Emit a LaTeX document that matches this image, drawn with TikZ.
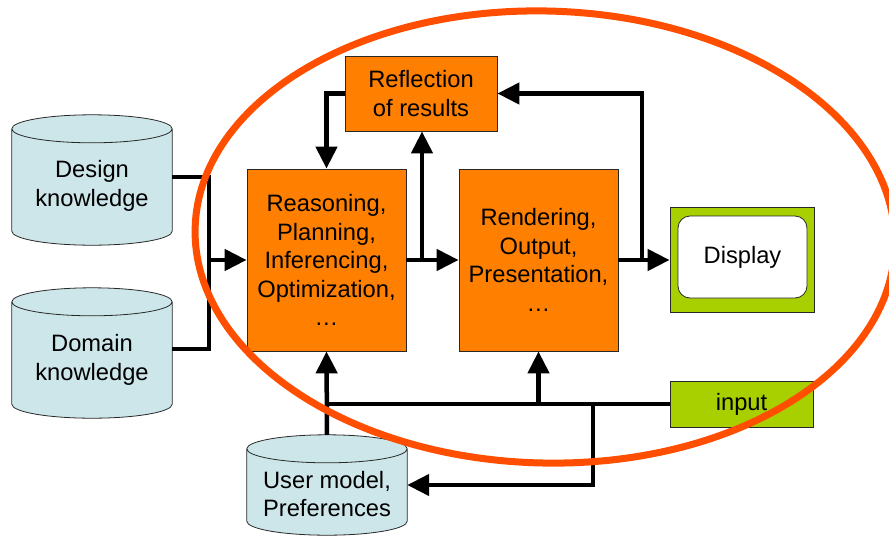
\documentclass[tikz,border=0pt]{standalone}
\usepackage{fontspec}
\setmainfont{Liberation Sans}
\usetikzlibrary{arrows.meta,calc}
\definecolor{boxorange}{RGB}{255,127,0}
\definecolor{dispgreen}{RGB}{168,208,0}
\definecolor{dbblue}{RGB}{205,230,234}
\definecolor{ringred}{RGB}{255,78,0}
\definecolor{edgegray}{RGB}{40,40,40}
\newcommand\dbcyl[1]{%
  \path[cylbody] let \p1=(#1.north west), \p2=(#1.south east), \n1={(\x2-\x1)/2} in
    (\x1,\y1-14pt) -- (\x1,\y2+14pt)
    arc[start angle=180, end angle=360, x radius=\n1, y radius=14pt]
    -- (\x2,\y1-14pt)
    arc[start angle=0, end angle=180, x radius=\n1, y radius=14pt] -- cycle
    (\x1,\y1-14pt) arc[start angle=180, end angle=360, x radius=\n1, y radius=14pt];}
\begin{document}
\begin{tikzpicture}[x=1pt,y=-1pt,
  every node/.style={font=\fontsize{23.7}{28.5}\selectfont, align=center, inner sep=0pt},
  procbox/.style={draw=edgegray, line width=0.8pt, fill=boxorange},
  greenbox/.style={draw=edgegray, line width=0.8pt, fill=dispgreen},
  cylbody/.style={draw=edgegray, line width=0.8pt, fill=dbblue},
  conn/.style={line width=4.5pt, draw=black},
  arr/.style={conn, -{Triangle[length=22pt,width=21pt]}},
  ring/.style={draw=ringred, line width=7pt}]

\useasboundingbox (0,0) rectangle (889,536);

% process boxes
\node[procbox, minimum width=152pt, minimum height=75pt] (refl) at (421,93.5) {Reflection\\of results};
\node[procbox, minimum width=159pt, minimum height=182pt] (reason) at (326.5,260) {Reasoning,\\Planning,\\Inferencing,\\Optimization,\\…};
\node[procbox, minimum width=159pt, minimum height=182pt] (rend) at (538.5,260) {Rendering,\\Output,\\Presentation,\\…};
\node[greenbox, minimum width=144pt, minimum height=105pt] (disp) at (742,260) {};
\node[draw=edgegray, line width=0.8pt, fill=white, rounded corners=12pt, minimum width=129pt, minimum height=82pt] (dispin) at (742.5,257) {Display};
\node[greenbox, minimum width=143pt, minimum height=46pt] (input) at (741.5,404) {input};

% databases
\node[minimum width=160pt, minimum height=130pt] (design) at (92,180) {};
\node[minimum width=160pt, minimum height=130pt] (domain) at (92,353) {};
\node[minimum width=160pt, minimum height=100pt] (user) at (327,485) {};
\dbcyl{design}
\dbcyl{domain}
\dbcyl{user}
\node (designtxt) at (92,186) {Design\\knowledge};
\node (domaintxt) at (92,360) {Domain\\knowledge};
\node (usertxt) at (327,494) {User model,\\Preferences};

% connectors
\coordinate (jl) at (209,260);
\draw[conn] ([yshift=3pt]design.east) -| (jl);
\draw[conn] ([yshift=4pt]domain.east) -| (jl);
\draw[arr] (jl) -- (reason.west);
\draw[arr] (refl.west) -| (reason.north);
\draw[arr] (reason.east) -- (rend.west);
\coordinate (b1) at (422,260);
\draw[arr] (b1) -- (b1 |- refl.south);
\draw[arr] (rend.east) -- (disp.west);
\coordinate (b2) at (642,260);
\draw[arr] (b2) |- (refl.east);
\draw[arr] (user.north) -- (reason.south);
\draw[conn] (input.west) -- (input.west -| reason.south);
\draw[arr] (input.west -| rend.south) -- (rend.south);
\coordinate (b3) at (593,404);
\draw[arr] (b3) |- (user.east);

% ring
\draw[ring, rotate around={-1.5:(545,237)}] (545,237) ellipse [x radius=350pt, y radius=226pt];
\end{tikzpicture}
\end{document}
